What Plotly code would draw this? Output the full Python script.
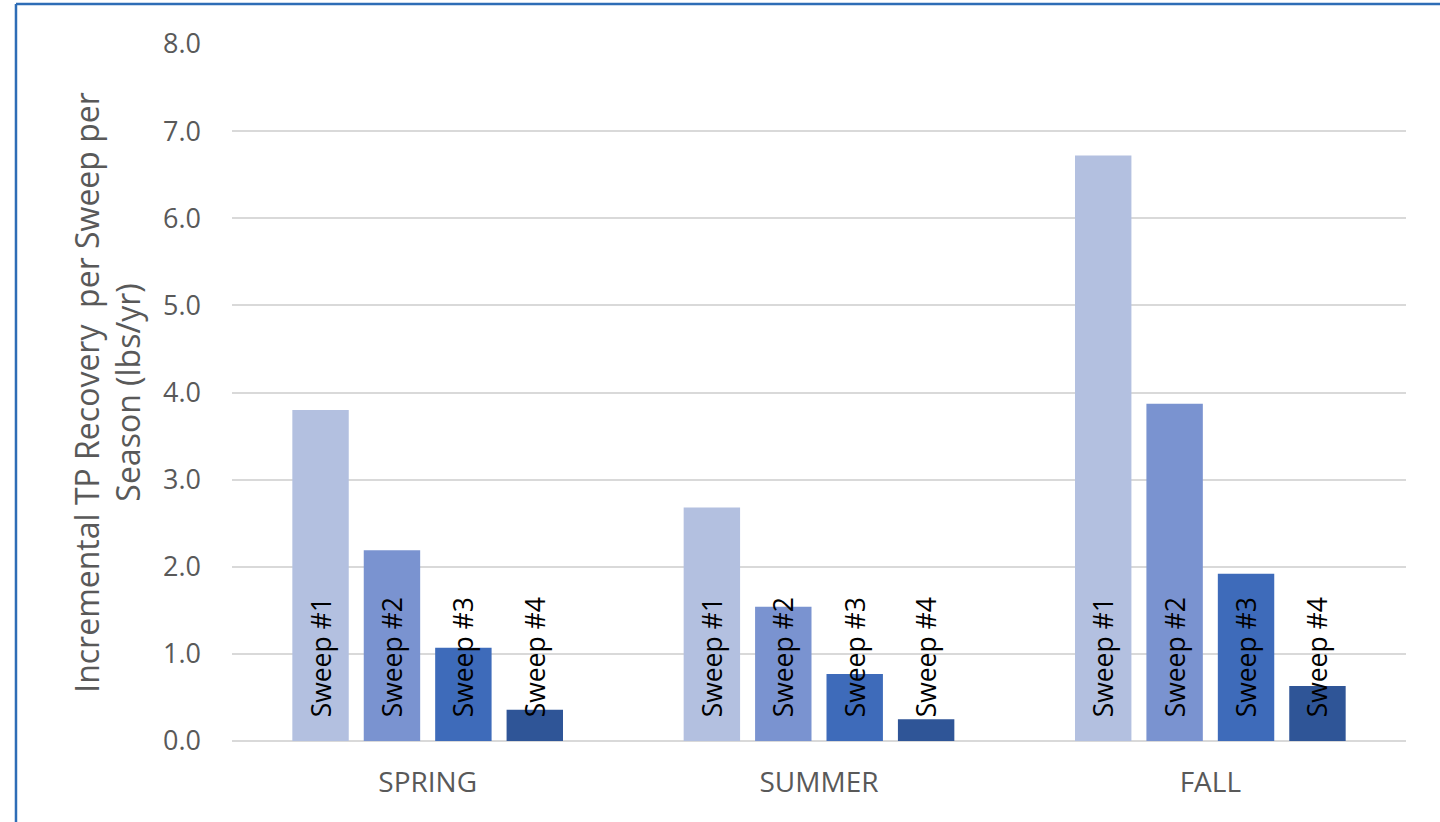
import plotly.graph_objects as go

# Seasons along the category axis
seasons = ["SPRING", "SUMMER", "FALL"]

# Incremental TP recovery (lbs/yr) for each sweep, per season
sweep_1 = [3.80, 2.68, 6.72]
sweep_2 = [2.19, 1.54, 3.87]
sweep_3 = [1.07, 0.77, 1.92]
sweep_4 = [0.36, 0.25, 0.63]

sweep_names = ["Sweep #1", "Sweep #2", "Sweep #3", "Sweep #4"]
sweep_colors = ["#b3c0e0", "#7a93d0", "#3e6bba", "#2f5597"]

y_ticks = [0, 1, 2, 3, 4, 5, 6, 7, 8]

FONT = "Open Sans"
GREY = "#595959"
PAD = "\u00a0\u00a0\u00a0"  # small gap between the bar base and its label

fig = go.Figure()
for name, vals, col in zip(sweep_names, [sweep_1, sweep_2, sweep_3, sweep_4], sweep_colors):
    fig.add_trace(go.Bar(
        x=seasons,
        y=vals,
        name=name,
        marker=dict(color=col, line=dict(width=0)),
        text=[PAD + name] * len(vals),
        textposition="inside",
        insidetextanchor="start",
        textangle=-90,
        constraintext="none",
        cliponaxis=False,
        textfont=dict(family=FONT, size=26.5, color="#000000"),
    ))

fig.update_layout(
    width=1440,
    height=822,
    barmode="group",
    bargap=0.27,
    bargroupgap=0.21,
    showlegend=False,
    plot_bgcolor="white",
    paper_bgcolor="white",
    margin=dict(l=232, r=34, t=44, b=81),
    font=dict(family=FONT, color=GREY),
    xaxis=dict(
        showgrid=False,
        showline=False,
        zeroline=False,
        ticks="",
        tickfont=dict(family=FONT, size=28, color=GREY),
        ticklabelstandoff=22,
    ),
    yaxis=dict(
        range=[0, 8],
        tickvals=y_ticks,
        tickformat=".1f",
        showgrid=True,
        gridcolor="#d9d9d9",
        gridwidth=1.5,
        zeroline=True,
        zerolinecolor="#d9d9d9",
        zerolinewidth=1.5,
        showline=False,
        ticks="",
        ticklabelstandoff=30,
        tickfont=dict(family=FONT, size=27, color=GREY),
        title=dict(
            text="Incremental TP Recovery  per Sweep per<br>Season (lbs/yr)",
            font=dict(family=FONT, size=32, color=GREY),
            standoff=12,
        ),
    ),
    shapes=[
        # chart frame along the top and left edges
        dict(type="line", xref="paper", yref="paper",
             x0=-0.184, x1=1.2, y0=1.0574, y1=1.0574,
             line=dict(color="#2e6db6", width=2.5)),
        dict(type="line", xref="paper", yref="paper",
             x0=-0.184, x1=-0.184, y0=1.0574, y1=-0.2,
             line=dict(color="#2e6db6", width=2.5)),
    ],
)

fig.write_html("out.html")
